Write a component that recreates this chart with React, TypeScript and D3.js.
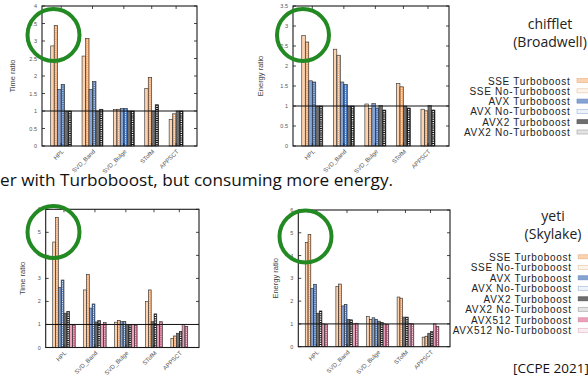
import { useEffect, useRef } from 'react'
import * as d3 from 'd3'

const seriesNames = [
  'SSE Turboboost',
  'SSE No-Turboboost',
  'AVX Turboboost',
  'AVX No-Turboboost',
  'AVX2 Turboboost',
  'AVX2 No-Turboboost',
  'AVX512 Turboboost',
  'AVX512 No-Turboboost',
]
const benchmarks = ['HPL', 'SVD_Band', 'SVD_Bulge', 'STofM', 'APPSCT']

// rows = benchmarks, columns = series (null = not measured)
const chiffletTime = [
  [2.86, 3.44, 1.62, 1.76, 1.0, 1.0],
  [2.57, 3.07, 1.62, 1.84, 1.0, 1.05],
  [1.04, 1.05, 1.07, 1.07, 1.0, 1.0],
  [1.64, 1.96, null, null, 1.0, 1.18],
  [0.76, 0.92, null, null, 1.0, 1.0],
]
const chiffletEnergy = [
  [2.76, 2.6, 1.63, 1.6, 1.0, 1.0],
  [2.42, 2.27, 1.6, 1.54, 1.0, 1.0],
  [1.05, 0.94, 1.06, 0.95, 1.01, 0.9],
  [1.56, 1.48, null, null, 1.0, 0.95],
  [0.92, 0.88, null, null, 1.01, 0.9],
]
const yetiTime = [
  [4.58, 5.65, 2.6, 2.93, 1.49, 1.57, 1.0, 0.98],
  [2.5, 3.17, 1.71, 1.89, 1.11, 1.17, 1.0, 1.08],
  [1.1, 1.18, 1.12, 1.13, 1.0, 1.0, 1.0, 0.97],
  [1.99, 2.5, null, null, 1.12, 1.46, 0.98, 1.12],
  [0.4, 0.5, null, null, 0.62, 0.7, 1.0, 0.92],
]
const yetiEnergy = [
  [4.57, 4.93, 2.56, 2.74, 1.47, 1.57, 1.0, 0.98],
  [2.65, 2.75, 1.79, 1.86, 1.2, 1.18, 1.0, 1.03],
  [1.32, 1.2, 1.27, 1.2, 1.12, 1.07, 1.0, 0.98],
  [2.18, 2.13, null, null, 1.3, 1.3, 1.02, 1.0],
  [0.42, 0.46, null, null, 0.59, 0.66, 1.0, 0.88],
]

const fills = ['#fbd3b0', '#f0a56b', '#86a3d3', '#4574b9', '#6f6f6f', '#151515', '#eba1bb', '#c65a82']
const swatchFills = ['#fbd3b0', '#fdf4ec', '#86a3d3', '#eef2f9', '#6f6f6f', '#e4e4e4', '#eba1bb', '#fbeef2']
const swatchStrokes = ['#e9b58a', '#e9c9ad', '#6d8cc0', '#aabbdd', '#555', '#aaa', '#d88aa5', '#e5b7c7']
const noTurbo = [false, true, false, true, false, true, false, true]

const panels = [
  { data: chiffletTime, label: 'Time ratio', x0: 42, x1: 197, y0: 6, y1: 146, yMax: 4, step: 0.5, titleX: 15, circle: [53.5, 35] },
  { data: chiffletEnergy, label: 'Energy ratio', x0: 293, x1: 449, y0: 6, y1: 146, yMax: 3.5, step: 0.5, titleX: 263, circle: [303, 35] },
  { data: yetiTime, label: 'Time ratio', x0: 45.7, x1: 199, y0: 209.3, y1: 347.5, yMax: 6, step: 1, titleX: 25, circle: [53.5, 232] },
  { data: yetiEnergy, label: 'Energy ratio', x0: 298.3, x1: 450, y0: 210, y1: 346.7, yMax: 6, step: 1, titleX: 278, circle: [305.5, 236.5] },
]

const legends = [
  { title: 'chifflet', sub: '(Broadwell)', cx: 550, ty: 28.5, sy: 46.5, n: 6, right: 570.5, top: 84.5, gap: 10.3 },
  { title: 'yeti', sub: '(Skylake)', cx: 553, ty: 220.7, sy: 239.3, n: 8, right: 571.7, top: 260.8, gap: 10.5 },
]

const chartFont = '"Liberation Sans", Arial, sans-serif'
const slideFont = '"Open Sans", sans-serif'

export default function App() {
  const svgRef = useRef<SVGSVGElement>(null)

  useEffect(() => {
    if (!svgRef.current) return
    const svg = d3.select(svgRef.current)
    svg.selectAll('*').remove()

    svg.append('rect').attr('width', 588).attr('height', 380).attr('fill', '#fff')

    panels.forEach((p) => {
      const g = svg.append('g')

      // bars of a group are packed, groups separated by 3 slots
      let cursor = 2.5
      const groups = p.data.map((row, gi) => {
        const bars = row
          .map((v, si) => ({ v, si }))
          .filter((b) => b.v != null) as { v: number; si: number }[]
        const start = cursor
        cursor += bars.length + 3
        return { name: benchmarks[gi], bars, start }
      })
      const total = cursor - 3 + 4

      const x = d3.scaleLinear().domain([0, total]).range([p.x0, p.x1])
      const y = d3.scaleLinear().domain([0, p.yMax]).range([p.y1, p.y0])
      const bw = x(1) - x(0)

      groups.forEach((grp) => {
        grp.bars.forEach((b, k) => {
          const bx = x(grp.start + k)
          g.append('rect')
            .attr('x', bx)
            .attr('y', y(b.v))
            .attr('width', bw)
            .attr('height', y(0) - y(b.v))
            .attr('fill', fills[b.si])
            .attr('stroke', '#2a2a2a')
            .attr('stroke-width', 0.6)
          if (noTurbo[b.si]) {
            g.append('line')
              .attr('x1', bx + bw / 2)
              .attr('x2', bx + bw / 2)
              .attr('y1', y(b.v) + 1)
              .attr('y2', y(0))
              .attr('stroke', '#fff')
              .attr('stroke-width', b.si === 5 ? 1.4 : 0.9)
              .attr('stroke-dasharray', '1.2,1')
          }
        })
      })

      // reference line at ratio 1
      g.append('line')
        .attr('x1', p.x0)
        .attr('x2', p.x1)
        .attr('y1', y(1))
        .attr('y2', y(1))
        .attr('stroke', '#111')
        .attr('stroke-width', 1)

      // frame
      g.append('rect')
        .attr('x', p.x0)
        .attr('y', p.y0)
        .attr('width', p.x1 - p.x0)
        .attr('height', p.y1 - p.y0)
        .attr('fill', 'none')
        .attr('stroke', '#1a1a1a')
        .attr('stroke-width', 1.1)

      // y ticks (mirrored, inward)
      d3.range(0, p.yMax + 1e-9, p.step).forEach((v) => {
        g.append('line').attr('x1', p.x0).attr('x2', p.x0 + 3).attr('y1', y(v)).attr('y2', y(v)).attr('stroke', '#1a1a1a').attr('stroke-width', 0.8)
        g.append('line').attr('x1', p.x1 - 3).attr('x2', p.x1).attr('y1', y(v)).attr('y2', y(v)).attr('stroke', '#1a1a1a').attr('stroke-width', 0.8)
        g.append('text')
          .attr('x', p.x0 - 5)
          .attr('y', y(v) + 2)
          .attr('text-anchor', 'end')
          .attr('font-family', chartFont)
          .attr('font-size', '5.5px')
          .attr('fill', '#555')
          .text(String(v))
      })

      // x ticks at group centres
      groups.forEach((grp) => {
        const cx = x(grp.start + grp.bars.length / 2)
        g.append('line').attr('x1', cx).attr('x2', cx).attr('y1', p.y1).attr('y2', p.y1 - 3).attr('stroke', '#1a1a1a').attr('stroke-width', 0.8)
        g.append('line').attr('x1', cx).attr('x2', cx).attr('y1', p.y0).attr('y2', p.y0 + 3).attr('stroke', '#1a1a1a').attr('stroke-width', 0.8)
        g.append('text')
          .attr('transform', `translate(${cx + 3},${p.y1 + 6}) rotate(-45)`)
          .attr('text-anchor', 'end')
          .attr('font-family', chartFont)
          .attr('font-size', '6px')
          .attr('fill', '#555')
          .text(grp.name)
      })

      // y title
      g.append('text')
        .attr('transform', `translate(${p.titleX},${(p.y0 + p.y1) / 2}) rotate(-90)`)
        .attr('text-anchor', 'middle')
        .attr('font-family', chartFont)
        .attr('font-size', '7.5px')
        .attr('fill', '#444')
        .text(p.label)

      // highlight circle
      g.append('circle')
        .attr('cx', p.circle[0])
        .attr('cy', p.circle[1])
        .attr('r', 26)
        .attr('fill', 'none')
        .attr('stroke', '#238a23')
        .attr('stroke-width', 4)
    })

    // legends
    legends.forEach((l) => {
      const g = svg.append('g')
      g.append('text').attr('x', l.cx).attr('y', l.ty).attr('text-anchor', 'middle').attr('font-family', slideFont).attr('font-size', '14px').attr('fill', '#222').text(l.title)
      g.append('text').attr('x', l.cx).attr('y', l.sy).attr('text-anchor', 'middle').attr('font-family', slideFont).attr('font-size', '14px').attr('fill', '#222').text(l.sub)
      seriesNames.slice(0, l.n).forEach((name, i) => {
        const by = l.top + i * l.gap
        g.append('text')
          .attr('x', l.right)
          .attr('y', by)
          .attr('text-anchor', 'end')
          .attr('font-family', chartFont)
          .attr('font-size', '10px')
          .attr('letter-spacing', '0.7px')
          .attr('fill', '#222')
          .text(name)
        g.append('rect')
          .attr('x', l.right + 6.5)
          .attr('y', by - 6)
          .attr('width', 14)
          .attr('height', 4)
          .attr('fill', swatchFills[i])
          .attr('stroke', swatchStrokes[i])
          .attr('stroke-width', 0.7)
      })
    })

    svg.append('text')
      .attr('x', 0)
      .attr('y', 186)
      .attr('font-family', slideFont)
      .attr('font-size', '17.2px')
      .attr('fill', '#111')
      .text('er with Turboboost, but consuming more energy.')

    svg.append('text')
      .attr('x', 513)
      .attr('y', 372.7)
      .attr('font-family', slideFont)
      .attr('font-size', '13.5px')
      .attr('fill', '#111')
      .text('[CCPE 2021]')
  }, [])

  return (
    <div style={{ position: 'absolute', left: 0, top: 0 }}>
      <svg ref={svgRef} width={588} height={380} style={{ display: 'block' }}></svg>
    </div>
  )
}
